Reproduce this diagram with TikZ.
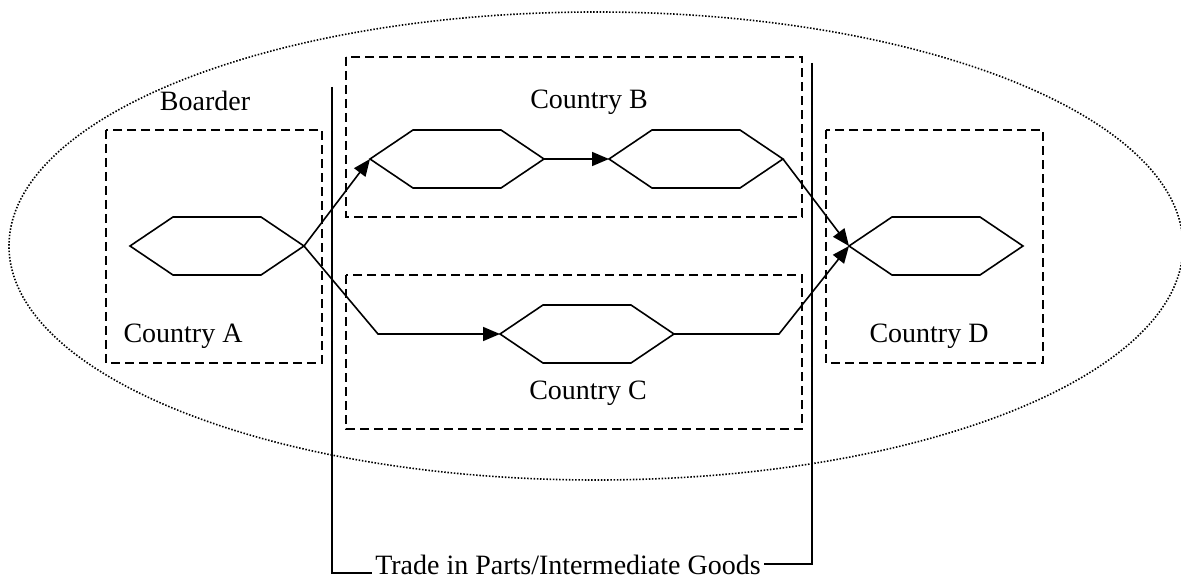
\documentclass[tikz,border=0pt]{standalone}
\usepackage{fontspec}
\setmainfont{Liberation Serif}
\usetikzlibrary{arrows.meta}
\tikzset{
  lbl/.style={font=\fontsize{28}{32}\selectfont, inner sep=0pt},
  cbox/.style={draw, line width=1.5pt, dash pattern=on 9pt off 5pt},
  hexline/.style={draw, line width=1.6pt, line join=miter},
  flow/.style={draw, line width=1.6pt, -{Triangle[length=17pt,width=14pt]}},
  bracket/.style={draw, line width=1.8pt},
  boarder/.style={draw, line width=1.6pt, dash pattern=on 1.5pt off 1.7pt}
}
% hexagon: #1 name, #2 cx, #3 cy
\newcommand{\hexshape}[3]{%
  \coordinate (#1-l) at (#2-87,#3);
  \coordinate (#1-r) at (#2+87,#3);
  \path[hexline] (#1-l) -- (#2-44,#3-29) -- (#2+44,#3-29) -- (#1-r) -- (#2+44,#3+29) -- (#2-44,#3+29) -- cycle;
}
\begin{document}
\begin{tikzpicture}[x=1pt,y=-1pt]
\useasboundingbox (0,0) rectangle (1181,585);
% border ellipse
\draw[boarder] (596,246) ellipse [x radius=587, y radius=234];
% country boxes
\draw[cbox] (106,130) rectangle (322,363);
\draw[cbox] (346,57) rectangle (802,217);
\draw[cbox] (346,275) rectangle (802,429);
\draw[cbox] (826,130) rectangle (1043,363);
% labels
\node[lbl] (boarder) at (205,101) {Boarder};
\node[lbl] (ca) at (183,336) {Country A};
\node[lbl] (cb) at (589,102) {Country B};
\node[lbl] (cc) at (588,393) {Country C};
\node[lbl] (cd) at (929,336) {Country D};
% hexagons
\hexshape{A}{217}{246}
\hexshape{B1}{457}{159}
\hexshape{B2}{696}{159}
\hexshape{C}{587}{334}
\hexshape{D}{936}{246}
% flows
\coordinate (ac) at (378,334);
\coordinate (cd2) at (779,334);
\draw[flow] (A-r) -- (B1-l);
\draw[flow] (A-r) -- (ac) -- (C-l);
\draw[flow] (B1-r) -- (B2-l);
\draw[flow] (B2-r) -- (D-l);
\draw[flow] (C-r) -- (cd2) -- (D-l);
% trade bracket
\node[lbl] (trade) at (568,565) {Trade in Parts/Intermediate Goods};
\coordinate (lt) at (332,87);
\coordinate (lb) at (332,573);
\coordinate (rt) at (812,63);
\coordinate (rb) at (812,564);
\draw[bracket] (lt) -- (lb) -- ([xshift=-3pt]trade.west |- lb);
\draw[bracket] (rt) -- (rb) -- ([xshift=3pt]trade.east |- rb);
\end{tikzpicture}
\end{document}
